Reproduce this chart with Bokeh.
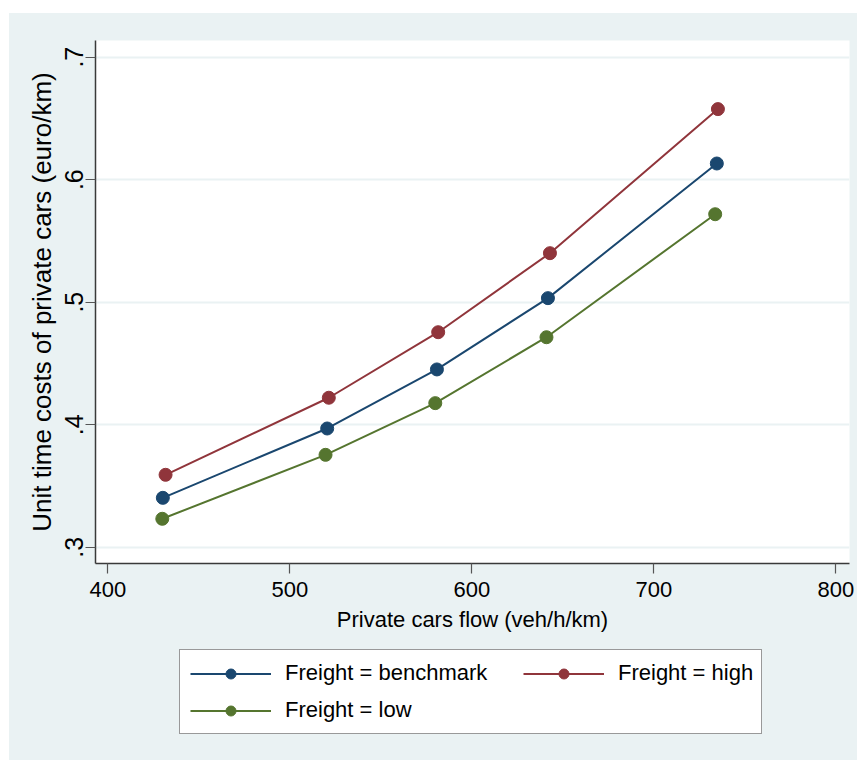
from bokeh.plotting import figure
from bokeh.layouts import column
from bokeh.models import Range1d, FixedTicker, Legend, LegendItem
from bokeh.embed import file_html
from bokeh.resources import INLINE

# ---- data ----
flow_benchmark = [430.2, 520.5, 580.8, 641.8, 734.6]
cost_benchmark = [0.3403, 0.3969, 0.4451, 0.5033, 0.6132]
flow_high = [431.7, 521.4, 581.5, 642.9, 735.2]
cost_high = [0.3591, 0.4220, 0.4755, 0.5400, 0.6576]
flow_low = [429.9, 519.6, 579.9, 641.0, 733.7]
cost_low = [0.3232, 0.3754, 0.4176, 0.4714, 0.5718]

x_ticks = [400, 500, 600, 700, 800]
y_ticks = [0.3, 0.4, 0.5, 0.6, 0.7]
y_tick_labels = [".3", ".4", ".5", ".6", ".7"]

series_labels = ["Freight = benchmark", "Freight = high", "Freight = low"]
series_colors = ["#1A476F", "#90353B", "#55752F"]
series_data = [(flow_benchmark, cost_benchmark),
               (flow_high, cost_high),
               (flow_low, cost_low)]

FONT = "Liberation Sans"
BG = "#EAF2F3"

# ---- main plot ----
p = figure(width=848, height=630, output_backend="svg", toolbar_location=None,
           x_range=Range1d(393.2, 807.5), y_range=Range1d(0.2867, 0.7136),
           min_border_left=86, min_border_right=8, min_border_top=27,
           min_border_bottom=80)
p.background_fill_color = "white"
p.border_fill_color = BG
p.outline_line_color = None

p.xaxis.ticker = FixedTicker(ticks=x_ticks)
p.yaxis.ticker = FixedTicker(ticks=y_ticks)
p.yaxis.major_label_overrides = {t: l for t, l in zip(y_ticks, y_tick_labels)}
for ax in (p.xaxis[0], p.yaxis[0]):
    ax.axis_line_color = "#3a3a3a"
    ax.axis_line_width = 1.5
    ax.major_tick_line_color = "#555555"
    ax.major_tick_line_width = 1.2
    ax.major_tick_out = 10
    ax.major_tick_in = 0
    ax.minor_tick_line_color = None
    ax.major_label_text_font = FONT
    ax.major_label_text_color = "black"
    ax.axis_label_text_font = FONT
    ax.axis_label_text_font_style = "normal"
    ax.axis_label_text_color = "black"

p.xaxis.major_label_text_font_size = "22px"
p.xaxis.major_label_standoff = 8
p.xaxis.axis_label = "Private cars flow (veh/h/km)"
p.xaxis.axis_label_text_font_size = "22px"
p.xaxis.axis_label_standoff = 7

p.yaxis.major_label_text_font_size = "25px"
p.yaxis.major_label_orientation = "parallel"
p.yaxis.major_label_standoff = 2
p.yaxis.axis_label = "Unit time costs of private cars (euro/km)"
p.yaxis.axis_label_text_font_size = "26px"
p.yaxis.axis_label_standoff = 6

p.xgrid.visible = False
p.ygrid.ticker = FixedTicker(ticks=y_ticks)
p.ygrid.grid_line_color = BG
p.ygrid.grid_line_width = 2

for (xs, ys), col in zip(series_data, series_colors):
    p.line(xs, ys, line_color=col, line_width=2)
    p.scatter(xs, ys, size=13, fill_color=col, line_color=col)

# ---- legend strip (separate figure so the legend is not clipped) ----
lg = figure(width=848, height=117, output_backend="svg", toolbar_location=None,
            x_range=Range1d(0, 1), y_range=Range1d(0, 1),
            x_axis_location=None, y_axis_location=None,
            min_border_left=86, min_border_right=8, min_border_top=0,
            min_border_bottom=0)
lg.background_fill_color = BG
lg.border_fill_color = BG
lg.outline_line_color = None
lg.xgrid.visible = False
lg.ygrid.visible = False

# same series drawn here off-range (invisible) only to provide legend glyphs
proxies = []
for (xs, ys), col in zip(series_data, series_colors):
    l = lg.line(xs, ys, line_color=col, line_width=2)
    s = lg.scatter(xs, ys, size=13, fill_color=col, line_color=col)
    proxies.append([l, s])

common = dict(glyph_width=81, glyph_height=25, label_height=24, spacing=11,
              label_standoff=14, label_text_font=FONT,
              label_text_font_size="22px", label_text_color="black",
              margin=0)

leg1 = Legend(items=[LegendItem(label=series_labels[0], renderers=proxies[0]),
                     LegendItem(label=series_labels[2], renderers=proxies[2])],
              location=(84, 26), label_width=466, padding=10,
              border_line_color="#333333", border_line_width=1.5,
              background_fill_color="white", background_fill_alpha=1.0,
              **common)
leg2 = Legend(items=[LegendItem(label=series_labels[1], renderers=proxies[1])],
              location=(428, 74), label_width=100, padding=0,
              border_line_color=None, background_fill_alpha=0.0,
              **common)
lg.add_layout(leg1, "center")
lg.add_layout(leg2, "center")

layout = column(p, lg, spacing=0)
layout.margin = (13, 0, 0, 9)
layout.styles = {"background-color": BG}

open("out.html", "w").write(file_html(layout, INLINE))
